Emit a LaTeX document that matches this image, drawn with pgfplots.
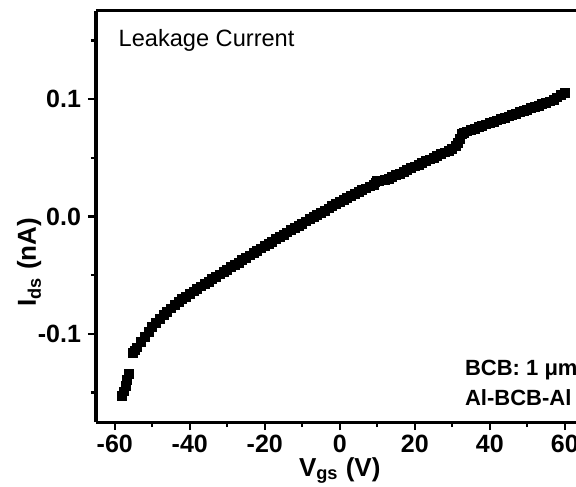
\documentclass[border=0pt]{standalone}
\usepackage{fontspec}
\setmainfont{Liberation Sans}
\usepackage{pgfplots}
\pgfplotsset{compat=1.18}
\begin{document}
\begin{tikzpicture}
\useasboundingbox (-48pt,-32pt) rectangle (240pt,211pt);
\clip (-48pt,-32pt) rectangle (240pt,211pt);
\begin{axis}[
  at={(0pt,0pt)}, anchor=south west,
  scale only axis, width=243.75pt, height=205.5pt,
  xmin=-65, xmax=65, ymin=-0.175, ymax=0.175,
  axis line style={line width=1.5pt},
  axis x line*=box, axis y line*=left,
  xtick={-60,-40,...,60}, minor xtick={-50,-30,...,50},
  ytick={-0.1,0,0.1}, minor ytick={-0.15,-0.05,0.05,0.15},
  tick align=outside, xtick pos=bottom, ytick pos=left,
  major tick length=4pt, minor tick length=2.5pt,
  every tick/.style={black, line width=1.2pt},
  /pgf/number format/assume math mode=true,
  yticklabel style={/pgf/number format/.cd, fixed, fixed zerofill, precision=1},
  ticklabel style={font=\fontsize{12.5}{13}\selectfont\bfseries},
  xticklabel style={yshift=1pt},
  xlabel={V\textsubscript{gs} (V)},
  ylabel={I\textsubscript{ds} (nA)},
  label style={font=\fontsize{13}{14}\selectfont\bfseries},
  xlabel style={at={(rel axis cs:0.5,-0.1314)}, anchor=base},
  ylabel style={at={(rel axis cs:-0.137,0.389)}, anchor=center, rotate=0},
]
\addplot[only marks, mark=square*, mark size=2.2pt, black] table {
x y
-58.0 -0.153
-57.6 -0.149
-57.1 -0.144
-56.7 -0.139
-56.3 -0.134
-55.2 -0.116
-54.6 -0.1140
-54 -0.1115
-53 -0.1070
-52 -0.1025
-51 -0.0982
-50 -0.0942
-49 -0.0906
-48 -0.0872
-47 -0.0840
-46 -0.0810
-45 -0.0782
-44 -0.0755
-43 -0.0729
-42 -0.0705
-41 -0.0682
-40 -0.0660
-39 -0.0638
-38 -0.0617
-37 -0.0596
-36 -0.0575
-35 -0.0555
-34 -0.0534
-33 -0.0514
-32 -0.0493
-31 -0.0473
-30 -0.0452
-29 -0.0432
-28 -0.0412
-27 -0.0392
-26 -0.0371
-25 -0.0351
-24 -0.0331
-23 -0.0311
-22 -0.0291
-21 -0.0271
-20 -0.0252
-19 -0.0232
-18 -0.0213
-17 -0.0193
-16 -0.0174
-15 -0.0155
-14 -0.0136
-13 -0.0117
-12 -0.0098
-11 -0.0079
-10 -0.0060
-9 -0.0041
-8 -0.0023
-7 -0.0004
-6 0.0014
-5 0.0033
-4 0.0051
-3 0.0069
-2 0.0087
-1 0.0105
0 0.0123
1 0.0140
2 0.0157
3 0.0174
4 0.0191
5 0.0208
6 0.0224
7 0.0240
8 0.0256
9 0.0271
9.5 0.0290
10 0.0303
10.5 0.0306
11 0.0308
12 0.0312
13 0.0322
14 0.0336
15 0.0351
16 0.0366
17 0.0381
18 0.0396
19 0.0411
20 0.0426
21 0.0441
22 0.0456
23 0.0471
24 0.0486
25 0.0501
26 0.0516
27 0.0531
28 0.0546
29 0.0561
30 0.0578
31 0.0600
31.5 0.0625
32 0.0660
32.5 0.0700
33 0.0715
34 0.0725
35 0.0735
36 0.0747
37 0.0760
38 0.0772
39 0.0784
40 0.0795
41 0.0806
42 0.0818
43 0.0830
44 0.0842
45 0.0853
46 0.0865
47 0.0877
48 0.0888
49 0.0900
50 0.0911
51 0.0922
52 0.0934
53 0.0945
54 0.0957
55 0.0968
56 0.0980
57 0.0995
58 0.1015
59 0.1035
60 0.1050
};
\node[anchor=west, font=\fontsize{11.8}{13}\selectfont] at (rel axis cs:0.032,0.929) {Leakage Current};
\node[anchor=west, font=\fontsize{11}{12}\selectfont\bfseries] at (rel axis cs:0.7426,0.1265) {BCB: 1 μm};
\node[anchor=west, font=\fontsize{11}{12}\selectfont\bfseries] at (rel axis cs:0.7426,0.0596) {Al-BCB-Al};
\end{axis}
\end{tikzpicture}
\end{document}
